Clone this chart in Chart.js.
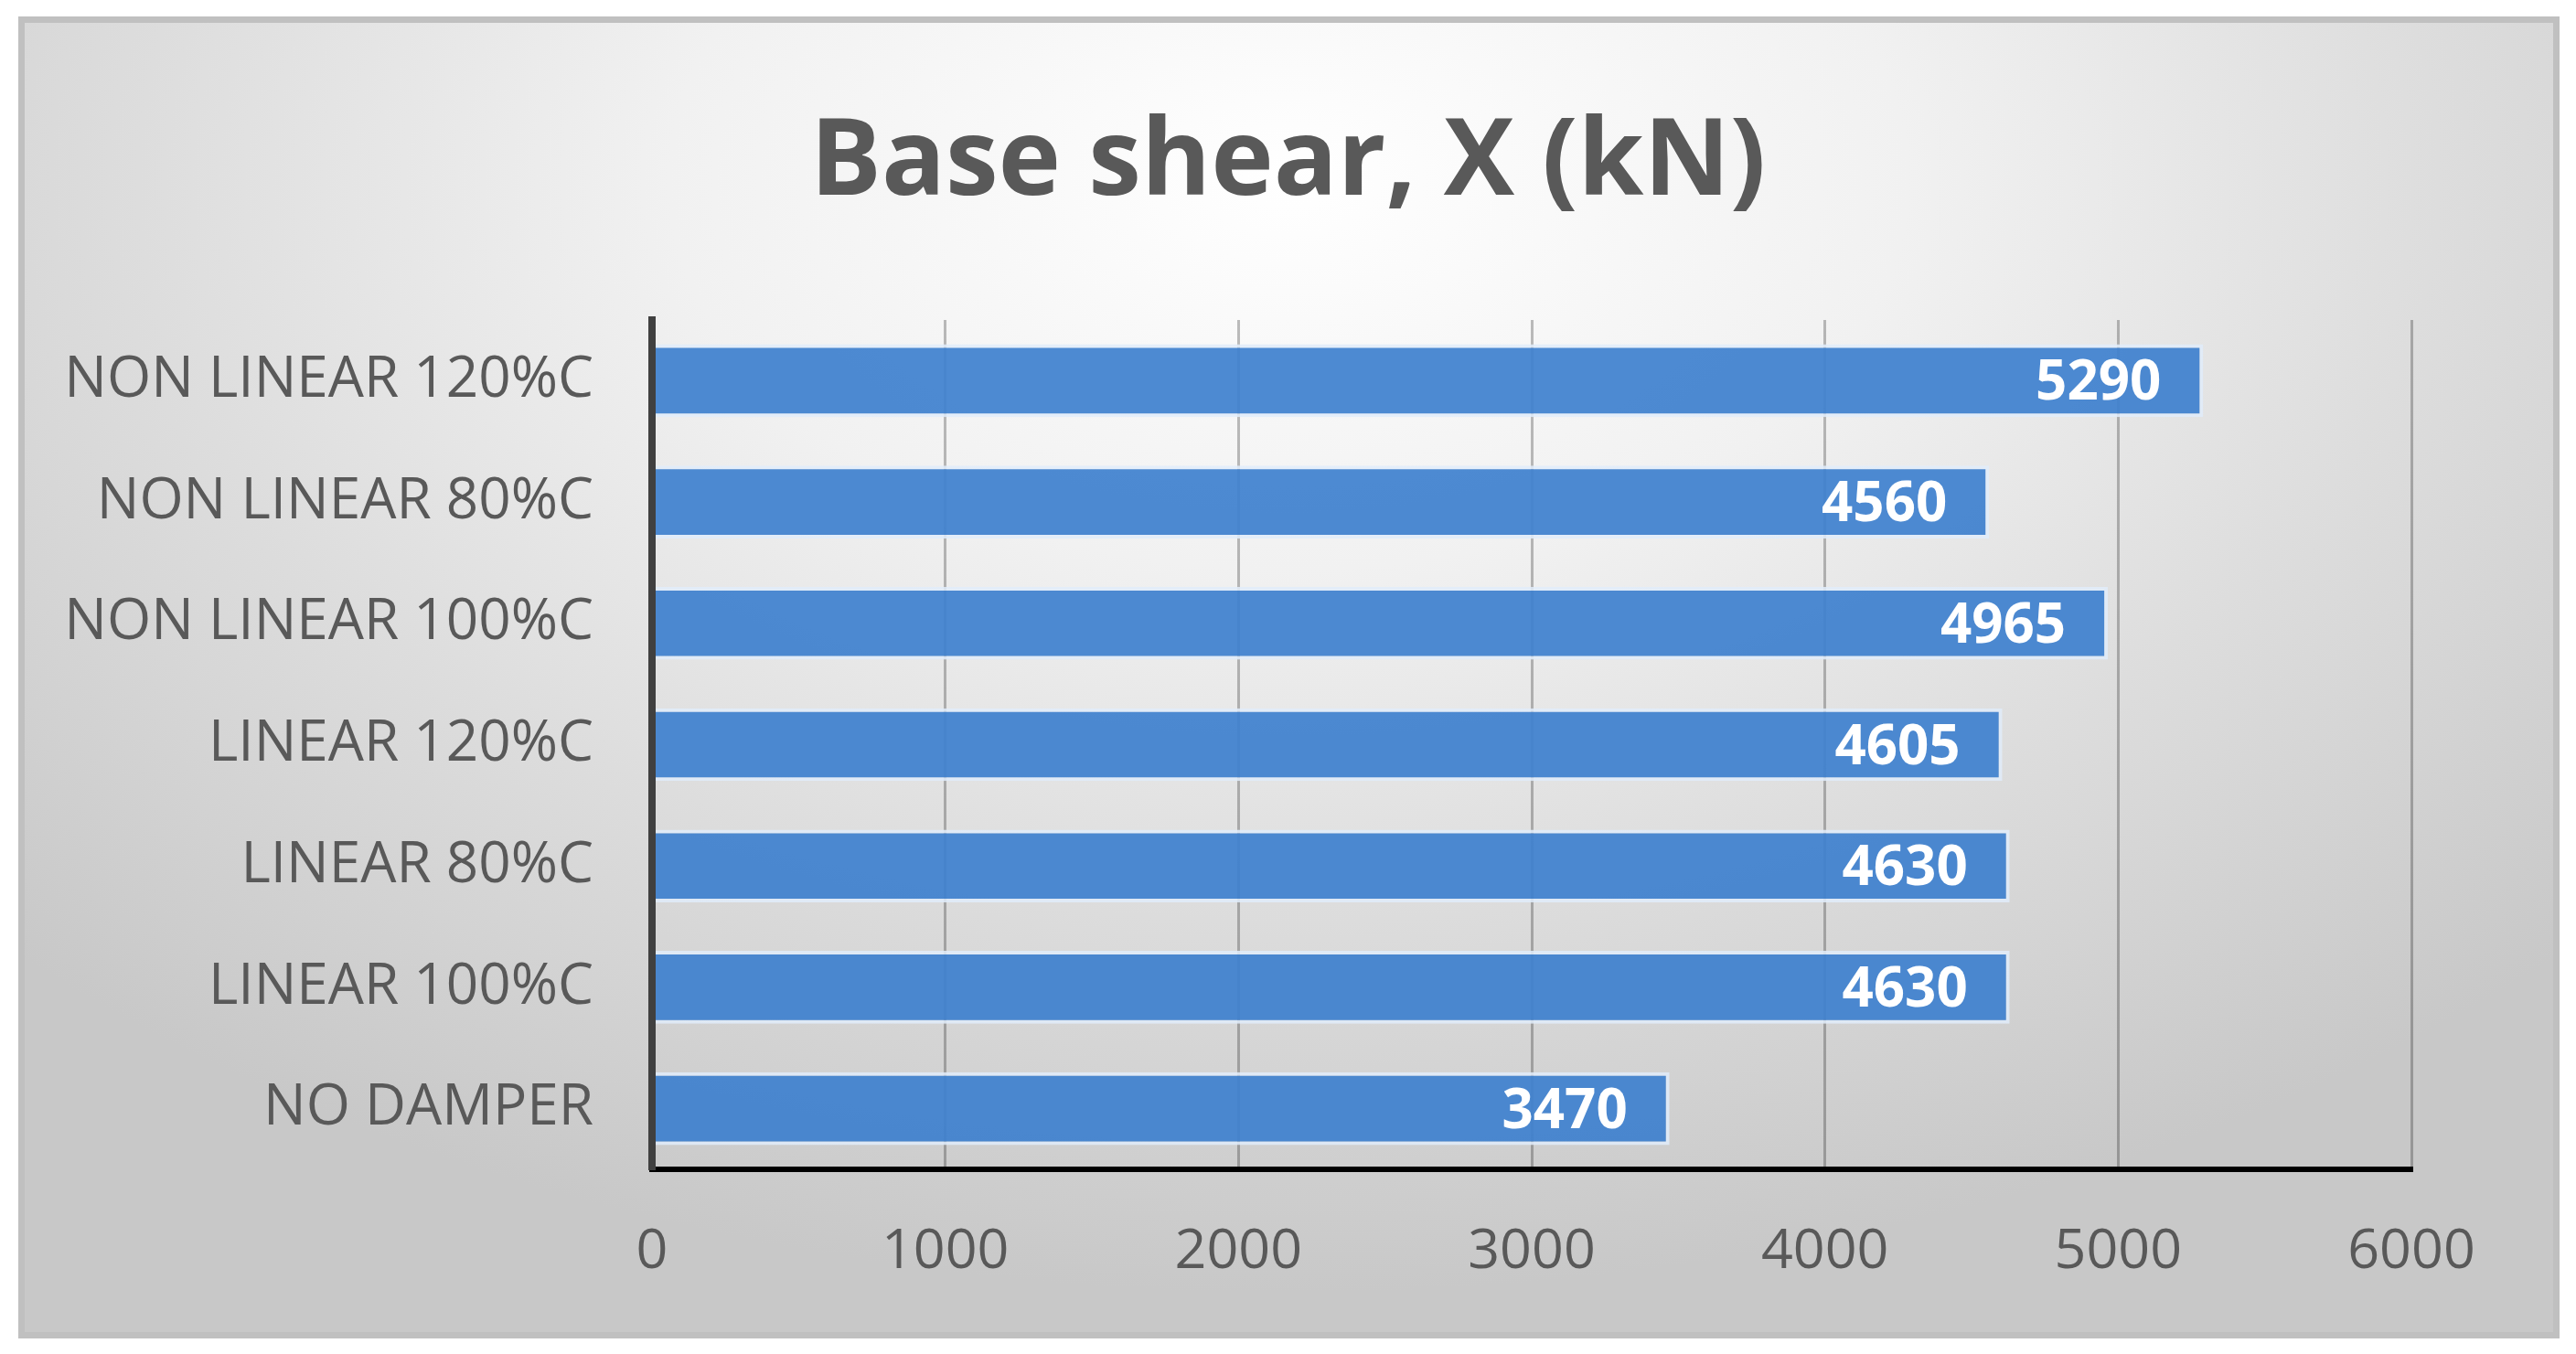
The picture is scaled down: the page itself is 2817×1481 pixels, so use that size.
<!DOCTYPE html>
<html>
<head>
<meta charset="utf-8">
<script src="https://cdn.jsdelivr.net/npm/chart.js@4.4.1/dist/chart.umd.min.js"></script>
<style>
  html, body { margin: 0; padding: 0; background: #ffffff; }
  #wrap { position: relative; width: 2817px; height: 1481px; overflow: hidden; }
  #frame {
    position: absolute; left: 20px; top: 18px; width: 2779px; height: 1446px;
    box-sizing: border-box; border: 7px solid #c0c0c0;
    background: radial-gradient(ellipse 70% 85% at 50% 12%, #ffffff 0%, #f1f1f1 35%, #dddddd 65%, #c8c8c8 100%);
  }
  #chart { position: absolute; left: 0; top: 0; }
</style>
</head>
<body>
<div id="wrap">
  <div id="frame"></div>
  <canvas id="chart" width="2817" height="1481"></canvas>
</div>
<script>
const categories = ['NON LINEAR 120%C', 'NON LINEAR 80%C', 'NON LINEAR 100%C', 'LINEAR 120%C', 'LINEAR 80%C', 'LINEAR 100%C', 'NO DAMPER'];
const baseShear = [5290, 4560, 4965, 4605, 4630, 4630, 3470];
const xTicks = [0, 1000, 2000, 3000, 4000, 5000, 6000];
const chartTitle = 'Base shear, X (kN)';

const textGray = '#595959';
const fontFamily = "'Open Sans', 'DejaVu Sans', sans-serif";

// title centred on the whole canvas (the built-in one centres between the paddings)
const centerTitle = {
    id: 'centerTitle',
    afterDraw(chart) {
        const ctx = chart.ctx;
        ctx.save();
        ctx.fillStyle = textGray;
        ctx.font = 'bold 116px ' + fontFamily;
        ctx.textAlign = 'center';
        ctx.textBaseline = 'middle';
        ctx.fillText(chartTitle, chart.width / 2, 180);
        ctx.restore();
    }
};

// white value labels inside the bar ends
const barLabels = {
    id: 'barLabels',
    afterDatasetsDraw(chart) {
        const ctx = chart.ctx;
        const meta = chart.getDatasetMeta(0);
        ctx.save();
        ctx.fillStyle = '#ffffff';
        ctx.font = 'bold 60px ' + fontFamily;
        ctx.textAlign = 'right';
        ctx.textBaseline = 'middle';
        meta.data.forEach(function(bar, i) {
            ctx.fillText(String(chart.data.datasets[0].data[i]), bar.x - 46, bar.y + 4);
        });
        ctx.restore();
    }
};

Chart.defaults.devicePixelRatio = 1;

new Chart(document.getElementById('chart'), {
    type: 'bar',
    data: {
        labels: categories,
        datasets: [{
            label: chartTitle,
            data: baseShear,
            backgroundColor: 'rgba(62, 128, 206, 0.92)',
            borderColor: 'rgba(225, 236, 250, 0.85)',
            borderWidth: 4,
            borderSkipped: 'start',
            categoryPercentage: 1,
            barPercentage: 0.6
        }]
    },
    options: {
        indexAxis: 'y',
        responsive: false,
        animation: false,
        layout: { padding: { left: 22, right: 180, top: 350, bottom: 0 } },
        scales: {
            x: {
                min: 0,
                max: 6000,
                afterBuildTicks(scale) {
                    scale.ticks = xTicks.map(v => ({ value: v }));
                },
                afterFit(scale) { scale.height = 202; },
                grid: { color: 'rgba(0, 0, 0, 0.25)', lineWidth: 3, drawTicks: false },
                border: { display: true, color: '#000000', width: 6, z: 1 },
                ticks: {
                    color: textGray,
                    padding: 54,
                    font: { family: fontFamily, size: 61 },
                    callback: v => String(v)
                }
            },
            y: {
                afterFit(scale) { scale.width = 691; },
                grid: { display: false, drawTicks: false },
                border: { display: true, color: '#404040', width: 8, z: 1 },
                ticks: { color: textGray, padding: 64, font: { family: fontFamily, size: 62 } }
            }
        },
        plugins: {
            legend: { display: false },
            tooltip: { enabled: false },
            title: { display: false }
        }
    },
    plugins: [barLabels, centerTitle]
});
</script>
</body>
</html>
